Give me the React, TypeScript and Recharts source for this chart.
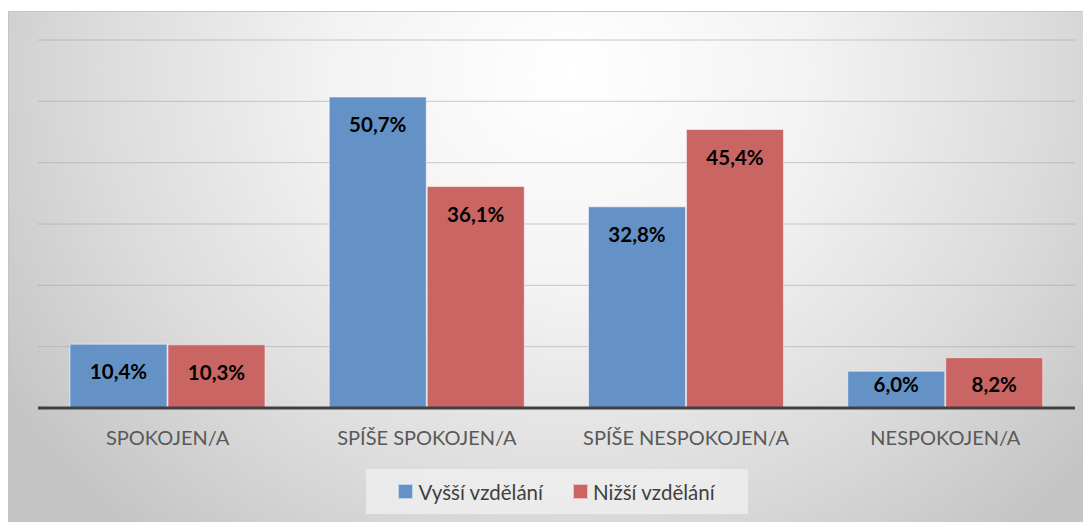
import React from 'react';
import { BarChart, Bar, XAxis, YAxis, CartesianGrid, Legend, LabelList } from 'recharts';

const categories = ['SPOKOJEN/A', 'SPÍŠE SPOKOJEN/A', 'SPÍŠE NESPOKOJEN/A', 'NESPOKOJEN/A'];
const vyssi = [10.4, 50.7, 32.8, 6.0];
const nizsi = [10.3, 36.1, 45.4, 8.2];
const yTicks = [0, 10, 20, 30, 40, 50, 60];

const seriesNames = { vyssi: 'Vyšší vzdělání', nizsi: 'Nižší vzdělání' };
const BLUE = '#6592c6';
const RED = '#c96563';
const FONT = 'Lato, "Open Sans", sans-serif';

const data = categories.map((name, i) => ({ name, vyssi: vyssi[i], nizsi: nizsi[i] }));

function formatPct(v: number): string {
  return v.toFixed(1).replace('.', ',') + '%';
}

function BarLabel(props: any) {
  const { x, y, width, height, value } = props;
  const dy = Math.min(27, height - 24);
  return (
    <text
      x={x + width / 2}
      y={y + dy}
      textAnchor="middle"
      dominantBaseline="central"
      fontFamily={FONT}
      fontWeight={700}
      fontSize={20.5}
      fill="#000"
    >
      {formatPct(value)}
    </text>
  );
}

function CategoryTick(props: any) {
  const { x, y, payload } = props;
  return (
    <text
      x={x}
      y={y + 21}
      textAnchor="middle"
      dominantBaseline="central"
      fontFamily={FONT}
      fontSize={20}
      fill="#595959"
    >
      {payload.value}
    </text>
  );
}

function LegendBox() {
  const items = [
    { label: seriesNames.vyssi, color: BLUE },
    { label: seriesNames.nizsi, color: RED },
  ];
  return (
    <div style={{ display: 'flex', justifyContent: 'center' }}>
      <div
        style={{
          width: 382,
          height: 45,
          background: 'rgba(240,240,240,0.75)',
          display: 'flex',
          alignItems: 'center',
          justifyContent: 'center',
          gap: 30,
          fontFamily: FONT,
          fontSize: 20.5,
          color: '#404040',
        }}
      >
        {items.map((it) => (
          <div key={it.label} style={{ display: 'flex', alignItems: 'center', gap: 5 }}>
            <span
              style={{
                width: 13,
                height: 13,
                background: it.color,
                border: '1px solid rgba(255,255,255,0.6)',
                display: 'inline-block',
              }}
            />
            <span>{it.label}</span>
          </div>
        ))}
      </div>
    </div>
  );
}

export default function App() {
  return (
    <div style={{ paddingTop: 3 }}>
      <div
        style={{
          width: 1083,
          height: 511,
          borderTop: '1px solid #c4c4c4',
          borderLeft: '1px solid #c4c4c4',
          boxSizing: 'border-box',
          background:
            'radial-gradient(ellipse 62% 120% at 52% 12%, #ffffff 0%, #f3f3f3 35%, #dcdcdc 70%, #c4c4c4 100%)',
        }}
      >
        <BarChart
          width={1082}
          height={510}
          data={data}
          margin={{ top: 28, right: 16, left: 29, bottom: 8 }}
          barGap={1}
          barSize={97}
        >
          <CartesianGrid vertical={false} stroke="#a8a8a8" strokeOpacity={0.6} />
          <YAxis hide domain={[0, 60]} ticks={yTicks} />
          <XAxis
            dataKey="name"
            height={61}
            axisLine={{ stroke: '#404040', strokeWidth: 3 }}
            tickLine={false}
            tick={<CategoryTick />}
            interval={0}
          />
          <Legend verticalAlign="bottom" height={45} content={<LegendBox />} />
          <Bar
            dataKey="vyssi"
            name={seriesNames.vyssi}
            fill={BLUE}
            stroke="rgba(255,255,255,0.5)"
            isAnimationActive={false}
          >
            <LabelList dataKey="vyssi" content={<BarLabel />} />
          </Bar>
          <Bar
            dataKey="nizsi"
            name={seriesNames.nizsi}
            fill={RED}
            stroke="rgba(255,255,255,0.5)"
            isAnimationActive={false}
          >
            <LabelList dataKey="nizsi" content={<BarLabel />} />
          </Bar>
        </BarChart>
      </div>
    </div>
  );
}
